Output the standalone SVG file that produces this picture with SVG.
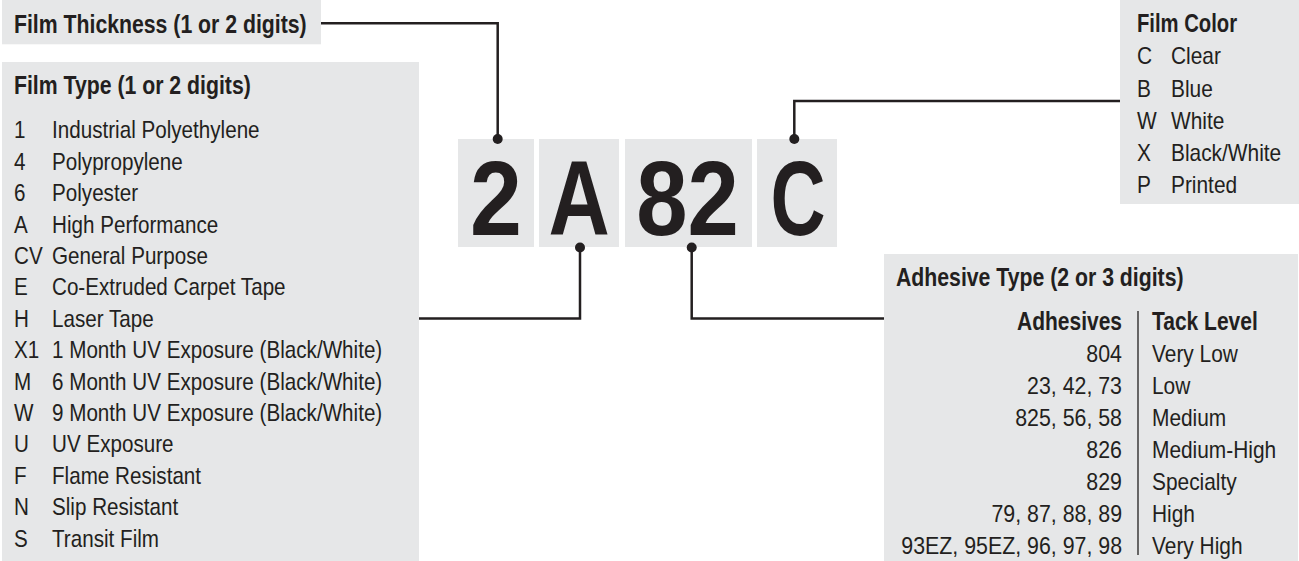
<svg xmlns="http://www.w3.org/2000/svg" width="1299" height="561" viewBox="0 0 1299 561">
<style>
.panel{fill:#e6e7e8}
text{font-family:"Liberation Sans",Arial,sans-serif;fill:#231f20}
.h{font-size:25px;font-weight:bold}
.t{font-size:24px}
.big{font-size:106px;font-weight:bold;text-anchor:middle}
.r{text-anchor:end}
.conn{fill:none;stroke:#231f20;stroke-width:2.5}
.dot{fill:#231f20}
</style>
<rect width="1299" height="561" fill="#ffffff"/>

<g id="film-thickness">
<rect class="panel" x="2" y="0" width="319" height="44.3"/>
<text class="h" transform="translate(14,33) scale(0.85,1)">Film Thickness (1 or 2 digits)</text>
</g>

<g id="film-type">
<rect class="panel" x="2" y="62" width="417" height="499"/>
<text class="h" transform="translate(14,93.5) scale(0.85,1)">Film Type (1 or 2 digits)</text>
<g class="t" transform="translate(14,0) scale(0.86,1)">
<text y="138.5">1</text>
<text y="169.9">4</text>
<text y="201.3">6</text>
<text y="232.7">A</text>
<text y="264.1">CV</text>
<text y="295.5">E</text>
<text y="326.9">H</text>
<text y="358.3">X1</text>
<text y="389.7">M</text>
<text y="421.1">W</text>
<text y="452.5">U</text>
<text y="483.9">F</text>
<text y="515.3">N</text>
<text y="546.7">S</text>
</g>
<g class="t" transform="translate(52,0) scale(0.86,1)">
<text y="138.5">Industrial Polyethylene</text>
<text y="169.9">Polypropylene</text>
<text y="201.3">Polyester</text>
<text y="232.7">High Performance</text>
<text y="264.1">General Purpose</text>
<text y="295.5">Co-Extruded Carpet Tape</text>
<text y="326.9">Laser Tape</text>
<text y="358.3">1 Month UV Exposure (Black/White)</text>
<text y="389.7">6 Month UV Exposure (Black/White)</text>
<text y="421.1">9 Month UV Exposure (Black/White)</text>
<text y="452.5">UV Exposure</text>
<text y="483.9">Flame Resistant</text>
<text y="515.3">Slip Resistant</text>
<text y="546.7">Transit Film</text>
</g>
</g>

<g id="code-2">
<rect class="panel" x="458" y="139" width="76" height="108"/>
<text class="big" transform="translate(496,235) scale(0.88,1)">2</text>
</g>
<g id="code-A">
<rect class="panel" x="539" y="139" width="80" height="108"/>
<text class="big" transform="translate(579.2,235) scale(0.8,1)">A</text>
</g>
<g id="code-82">
<rect class="panel" x="625" y="139" width="127" height="108"/>
<text class="big" transform="translate(687.5,235) scale(0.87,1)">82</text>
</g>
<g id="code-C">
<rect class="panel" x="757" y="139" width="80" height="108"/>
<text class="big" transform="translate(798,235) scale(0.72,1)">C</text>
</g>

<g id="film-color">
<rect class="panel" x="1120" y="0" width="179" height="204"/>
<text class="h" transform="translate(1137,32) scale(0.81,1)">Film Color</text>
<g class="t" transform="translate(1137,0) scale(0.87,1)">
<text y="64.3">C</text>
<text y="96.6">B</text>
<text y="128.9">W</text>
<text y="161.2">X</text>
<text y="193.5">P</text>
</g>
<g class="t" transform="translate(1171,0) scale(0.87,1)">
<text y="64.3">Clear</text>
<text y="96.6">Blue</text>
<text y="128.9">White</text>
<text y="161.2">Black/White</text>
<text y="193.5">Printed</text>
</g>
</g>

<g id="adhesive-type">
<rect class="panel" x="884" y="254" width="414" height="307"/>
<text class="h" transform="translate(896,286) scale(0.85,1)">Adhesive Type (2 or 3 digits)</text>
<line x1="1138" y1="311" x2="1138" y2="555" stroke="#231f20" stroke-width="1.3"/>
<text class="h r" transform="translate(1122,330) scale(0.84,1)">Adhesives</text>
<text class="h" transform="translate(1152,330) scale(0.84,1)">Tack Level</text>
<g class="t r" transform="translate(1122,0) scale(0.89,1)">
<text y="362">804</text>
<text y="394">23, 42, 73</text>
<text y="426">825, 56, 58</text>
<text y="458">826</text>
<text y="490">829</text>
<text y="522">79, 87, 88, 89</text>
<text y="554">93EZ, 95EZ, 96, 97, 98</text>
</g>
<g class="t" transform="translate(1152,0) scale(0.87,1)">
<text y="362">Very Low</text>
<text y="394">Low</text>
<text y="426">Medium</text>
<text y="458">Medium-High</text>
<text y="490">Specialty</text>
<text y="522">High</text>
<text y="554">Very High</text>
</g>
</g>

<g id="connectors">
<polyline class="conn" points="321,23.3 497.7,23.3 497.7,139"/>
<circle class="dot" cx="497.7" cy="139" r="5"/>
<polyline class="conn" points="419,318.5 580,318.5 580,247.5"/>
<circle class="dot" cx="580" cy="247.5" r="5"/>
<polyline class="conn" points="884,318.5 691.7,318.5 691.7,247.5"/>
<circle class="dot" cx="691.7" cy="247.5" r="5"/>
<polyline class="conn" points="1120,101 794.3,101 794.3,139"/>
<circle class="dot" cx="794.3" cy="139" r="5"/>
</g>
</svg>
